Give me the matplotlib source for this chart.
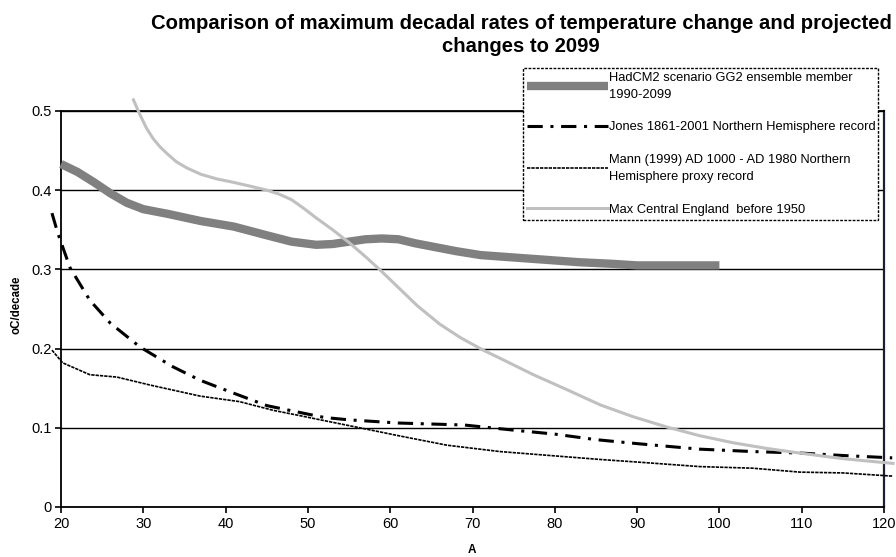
import numpy as np
import matplotlib
matplotlib.use('Agg')
from matplotlib import pyplot as plt

plt.rcParams['font.family'] = ['Liberation Sans', 'DejaVu Sans']

# HadCM2 scenario GG2 ensemble member 1990-2099
had_x = [20, 22, 24, 26, 28, 30, 33, 37, 41, 45, 48, 51, 53, 55, 57, 59, 61,
         63, 65, 68, 71, 75, 79, 83, 87, 90, 95, 100]
had_y = [0.433, 0.423, 0.410, 0.396, 0.384, 0.376, 0.370, 0.361, 0.354, 0.343,
         0.335, 0.331, 0.332, 0.335, 0.338, 0.339, 0.338, 0.333, 0.329, 0.323,
         0.318, 0.315, 0.312, 0.309, 0.307, 0.305, 0.305, 0.305]

# Jones 1861-2001 NH record
jones_x = [18.9, 19.6, 21.1, 23.5, 26, 29.6, 33.6, 36.9, 40.9, 45, 48.7, 52,
           55, 61, 69, 75, 80, 85, 90, 97.6, 104, 110, 115, 121]
jones_y = [0.371, 0.346, 0.302, 0.261, 0.232, 0.202, 0.177, 0.160, 0.144,
           0.128, 0.120, 0.113, 0.110, 0.106, 0.1035, 0.097, 0.092, 0.085,
           0.080, 0.073, 0.070, 0.068, 0.065, 0.062]

# Mann (1999) NH proxy record
mann_x = [18.9, 20.2, 23.5, 26.8, 30.8, 36.9, 41.7, 45.8, 48.7, 52, 56.3, 61,
          66.9, 73.3, 79.4, 85.5, 91, 97.6, 104, 109.8, 115, 121]
mann_y = [0.198, 0.182, 0.167, 0.164, 0.154, 0.140, 0.133, 0.122, 0.116,
          0.109, 0.100, 0.090, 0.078, 0.070, 0.065, 0.060, 0.056, 0.051,
          0.049, 0.044, 0.043, 0.039]

# Max Central England before 1950
cet_x = [28.8, 29.6, 30.4, 31.2, 32.0, 32.9, 34.0, 35.3, 37, 39, 40.9, 43,
         45, 46.5, 48, 49.5, 51, 53, 55.1, 57, 58.8, 61, 63.3, 66, 68.5, 71.3,
         73.3, 77.4, 81.5, 85.5, 89.5, 93.6, 97.6, 101.7, 105.7, 109.8, 115,
         121.1]
cet_y = [0.514, 0.495, 0.478, 0.465, 0.455, 0.446, 0.436, 0.428, 0.420, 0.414,
         0.410, 0.405, 0.400, 0.395, 0.388, 0.377, 0.365, 0.350, 0.333, 0.316,
         0.299, 0.277, 0.254, 0.231, 0.214, 0.198, 0.188, 0.167, 0.148, 0.129,
         0.114, 0.101, 0.090, 0.081, 0.074, 0.068, 0.061, 0.055]

labels = ['HadCM2 scenario GG2 ensemble member\n1990-2099',
          'Jones 1861-2001 Northern Hemisphere record',
          'Mann (1999) AD 1000 - AD 1980 Northern\nHemisphere proxy record',
          'Max Central England  before 1950']

x_ticks = np.arange(20, 121, 10)
y_ticks = [0, 0.1, 0.2, 0.3, 0.4, 0.5]
y_tick_labels = ['0', '0.1', '0.2', '0.3', '0.4', '0.5']

fig = plt.figure(figsize=(8.96, 5.57), dpi=100)
ax = fig.add_axes([0.0681, 0.0898, 0.9185, 0.711])

ax.plot(had_x, had_y, color='#808080', lw=6, solid_capstyle='butt',
        label=labels[0], clip_on=False, zorder=3)
ax.plot(jones_x, jones_y, color='black', lw=2.2, ls=(0, (5, 2.5, 1, 2.5)),
        label=labels[1], clip_on=False, zorder=3)
ax.plot(mann_x, mann_y, color='black', lw=1.2, ls=(0, (2, 0.6)),
        label=labels[2], clip_on=False, zorder=3)
ax.plot(cet_x, cet_y, color='#c0c0c0', lw=2.2, label=labels[3],
        clip_on=False, zorder=3)

ax.set_xlim(20, 120)
ax.set_ylim(0, 0.5)
ax.set_xticks(x_ticks)
ax.set_yticks(y_ticks)
ax.set_yticklabels(y_tick_labels)
ax.tick_params(direction='out', length=4, width=1.2, labelsize=10.5, pad=3)
ax.yaxis.grid(True, color='black', lw=1)
ax.set_axisbelow(True)
for s in ['left', 'bottom', 'top']:
    ax.spines[s].set_linewidth(1.3)
    ax.spines[s].set_color('black')
ax.spines['right'].set_linewidth(1.6)
ax.spines['right'].set_color('#1c1c3c')

leg = ax.legend(loc='upper left', bbox_to_anchor=(0.561, 0.712, 0.432, 0.397),
                mode='expand', borderaxespad=0, fontsize=9.3, handlelength=6.3,
                handletextpad=0.1, borderpad=0.3, labelspacing=1.6,
                fancybox=False, framealpha=1)
for t in leg.get_texts():
    t.set_linespacing(1.55)
leg.get_frame().set_edgecolor('black')
leg.get_frame().set_linestyle((0, (2, 1)))
leg.get_frame().set_linewidth(1)
leg.set_zorder(5)

fig.text(521 / 896, 1 - 35 / 557,
         'Comparison of maximum decadal rates of temperature change and projected\nchanges to 2099',
         ha='center', va='center', fontsize=14.6, fontweight='bold', linespacing=1.32)
fig.text(17 / 896, 1 - 305 / 557, 'oC/decade', rotation=90, ha='center',
         va='center', fontsize=8.3, fontweight='bold')
fig.text(472 / 896, 1 - 550 / 557, 'A', ha='center', va='center',
         fontsize=8.5, fontweight='bold')

fig.savefig('out.png', dpi=100)
